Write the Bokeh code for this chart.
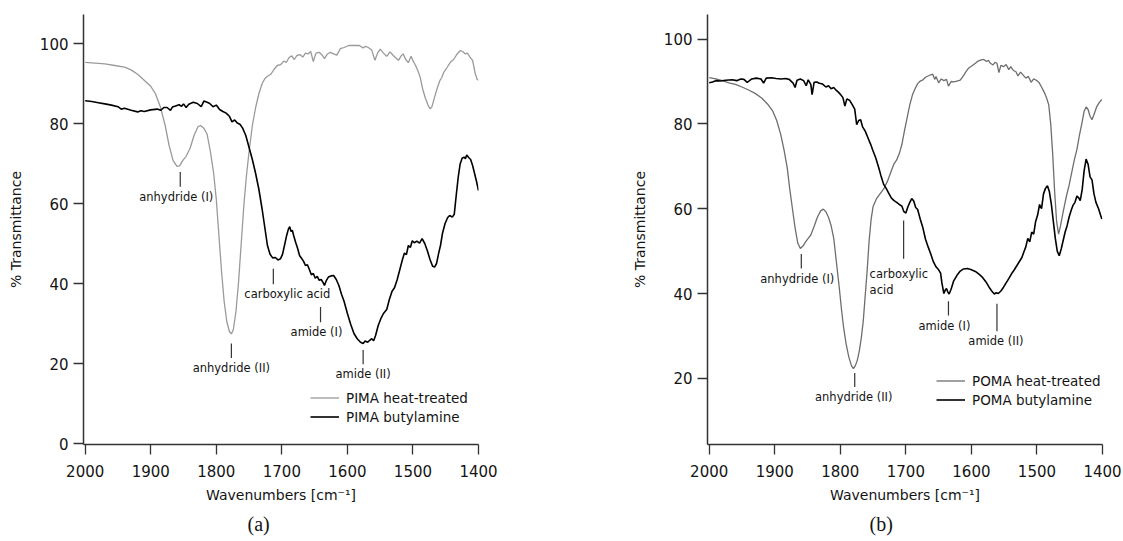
from bokeh.plotting import figure
from bokeh.layouts import row
from bokeh.models import Range1d, FixedTicker, Legend, LegendItem, Title
from bokeh.core.properties import value
from bokeh.embed import file_html
from bokeh.resources import INLINE

# ---------------- (a) PIMA spectra ----------------
pima_heat_wn = [2000, 1985, 1970, 1955, 1940, 1930, 1920, 1910, 1900, 1893, 1885, 1878, 1872, 1866,
                1860, 1856, 1851, 1846, 1840, 1834, 1828, 1824, 1819, 1814, 1809, 1804, 1800, 1796,
                1792, 1788, 1784, 1780, 1777, 1774, 1770, 1766, 1762, 1758, 1754, 1750, 1745, 1740,
                1735, 1730, 1726, 1722, 1717, 1712, 1707, 1702, 1697, 1693, 1689, 1685, 1681, 1677,
                1672, 1668, 1664, 1660, 1656, 1652, 1648, 1643, 1638, 1635, 1631, 1626, 1621, 1616,
                1611, 1605, 1598, 1590, 1582, 1576, 1572, 1568, 1563, 1558, 1554, 1550, 1545, 1540,
                1535, 1530, 1526, 1522, 1518, 1515, 1511, 1507, 1503, 1499, 1496, 1492, 1489, 1485,
                1481, 1477, 1474, 1471, 1467, 1463, 1459, 1456, 1453, 1448, 1443, 1438, 1433, 1428,
                1424, 1420, 1417, 1413, 1409, 1405, 1402, 1400]
pima_heat_t = [95.3, 95.1, 94.9, 94.5, 94.1, 93.4, 92.3, 90.8, 89.3, 87.5, 84.0, 79.5, 74.5, 70.8,
               69.3, 69.4, 70.8, 71.8, 73.8, 77.0, 79.2, 79.5, 78.8, 77.3, 73.0, 67.5, 61.0, 52.0,
               43.0, 35.5, 30.5, 28.0, 27.4, 28.5, 33.0, 40.5, 50.0, 59.5, 67.0, 73.0, 79.5, 84.0,
               87.5, 90.0, 91.2, 91.8, 92.3, 93.5, 94.5, 94.7, 95.6, 95.3, 96.5, 96.9, 96.0, 97.0,
               97.2, 96.6, 97.6, 97.4, 98.0, 95.5, 97.6, 97.8, 97.0, 96.2, 97.3, 97.8, 97.4, 97.1,
               98.7, 99.0, 99.5, 99.5, 99.5, 98.9, 99.3, 99.0, 98.4, 95.8, 97.6, 98.6, 97.6, 96.8,
               97.9, 97.0, 96.4, 95.8, 96.9, 97.4, 96.0, 95.2, 96.8, 95.4, 94.5, 93.0, 91.6, 88.5,
               86.3, 84.6, 83.7, 84.2, 86.6, 88.8, 90.7, 91.5, 92.8, 94.0, 95.3, 96.0, 97.3, 98.2,
               98.0, 97.4, 97.6, 96.6, 95.8, 92.5, 91.0, 90.8]

pima_amine_wn = [2000, 1990, 1980, 1970, 1960, 1950, 1945, 1940, 1930, 1920, 1915, 1910, 1900, 1890,
                 1885, 1880, 1875, 1870, 1867, 1862, 1857, 1853, 1850, 1846, 1842, 1835, 1829, 1823,
                 1819, 1814, 1810, 1805, 1800, 1795, 1790, 1785, 1780, 1776, 1772, 1768, 1764, 1760,
                 1755, 1750, 1745, 1740, 1735, 1730, 1726, 1722, 1718, 1714, 1710, 1706, 1702, 1699,
                 1696, 1693, 1690, 1688, 1686, 1684, 1682, 1679, 1676, 1673, 1670, 1667, 1664, 1661,
                 1658, 1655, 1652, 1649, 1646, 1643, 1640, 1637, 1635, 1632, 1629, 1625, 1621, 1617,
                 1613, 1609, 1605, 1600, 1595, 1590, 1585, 1580, 1576, 1573, 1569, 1566, 1563, 1560,
                 1557, 1553, 1549, 1545, 1540, 1536, 1532, 1528, 1524, 1520, 1516, 1513, 1510, 1507,
                 1504, 1501, 1498, 1494, 1490, 1486, 1482, 1478, 1474, 1470, 1467, 1464, 1461, 1458,
                 1455, 1451, 1447, 1444, 1440, 1437, 1434, 1431, 1428, 1425, 1422, 1420, 1418, 1415,
                 1412, 1409, 1406, 1403, 1400]
pima_amine_t = [85.7, 85.5, 85.2, 84.9, 84.6, 84.2, 83.6, 83.8, 83.3, 82.9, 83.2, 83.0, 83.4, 83.6,
                83.3, 84.0, 84.0, 83.3, 84.1, 84.4, 84.7, 84.3, 84.9, 84.0, 84.8, 85.3, 85.0, 84.2,
                85.6, 85.3, 85.0, 84.2, 84.6, 83.5, 83.0, 82.6, 81.8, 80.4, 80.9, 80.1, 79.8, 78.9,
                77.0, 74.0, 71.0, 67.5, 63.5, 58.5, 54.0, 49.5, 47.3, 46.4, 46.5, 45.9, 46.2, 47.3,
                49.5, 51.8, 53.6, 54.2, 53.0, 53.3, 52.0, 50.3, 48.8, 47.0, 46.3, 45.6, 44.5, 44.7,
                43.5, 42.2, 42.5, 41.3, 41.8, 40.8, 41.0, 40.2, 39.5, 40.8, 41.6, 41.9, 42.0, 41.0,
                39.5, 37.3, 35.5, 32.5, 29.8, 27.5, 26.2, 25.3, 25.0, 25.6, 25.3, 25.8, 26.2, 25.7,
                27.0, 29.5, 31.2, 32.5, 33.5, 36.0, 38.0, 39.0, 41.0, 43.5, 46.0, 47.6, 47.2, 49.5,
                49.0, 50.7, 50.2, 50.6, 50.1, 51.2, 50.0, 48.2, 46.0, 44.3, 44.1, 45.0, 47.4, 49.5,
                52.5, 55.0, 56.5, 57.0, 56.6, 57.3, 62.0, 66.5, 69.9, 71.3, 71.6, 71.2, 72.1, 71.5,
                71.0, 69.5, 67.5, 65.5, 63.2]

pima_ann_text = ["anhydride (I)", "anhydride (II)", "carboxylic acid", "amide (I)", "amide (II)"]
pima_ann_wn = [1855, 1777, 1713, 1641, 1576]
pima_ann_top = [67.9, 25.0, 43.7, 34.1, 23.4]
pima_ann_bot = [64.2, 21.4, 39.8, 30.3, 19.8]

# ---------------- (b) POMA spectra ----------------
poma_heat_wn = [2000, 1990, 1980, 1970, 1960, 1950, 1940, 1930, 1920, 1910, 1903, 1897, 1891, 1886,
                1881, 1877, 1873, 1869, 1865, 1861, 1857, 1853, 1849, 1845, 1840, 1835, 1830, 1826,
                1822, 1818, 1814, 1810, 1806, 1802, 1798, 1795, 1791, 1787, 1783, 1780, 1777, 1774,
                1771, 1768, 1765, 1762, 1759, 1756, 1753, 1750, 1745, 1740, 1734, 1728, 1722, 1718,
                1714, 1710, 1706, 1702, 1698, 1694, 1690, 1686, 1682, 1678, 1674, 1670, 1666, 1662,
                1659, 1656, 1654, 1650, 1646, 1642, 1638, 1635, 1631, 1627, 1622, 1617, 1612, 1608,
                1604, 1599, 1594, 1590, 1585, 1581, 1577, 1574, 1571, 1567, 1564, 1561, 1558, 1555,
                1551, 1547, 1543, 1540, 1536, 1532, 1529, 1525, 1521, 1517, 1513, 1509, 1505, 1501,
                1497, 1493, 1489, 1485, 1482, 1479, 1476, 1473, 1470, 1467, 1464, 1461, 1458, 1455,
                1451, 1447, 1443, 1439, 1435, 1431, 1428, 1425, 1422, 1419, 1416, 1413, 1409, 1405,
                1401]
poma_heat_t = [90.9, 90.6, 90.2, 89.7, 89.3, 88.7, 88.0, 87.2, 86.1, 84.5, 83.0, 80.8, 77.6, 74.0,
               69.7, 64.5, 60.0, 55.5, 52.0, 50.6, 51.2, 52.2, 53.0, 53.8, 55.8, 58.0, 59.5, 59.9,
               59.3, 58.0, 56.0, 53.0, 47.5, 42.0, 36.0, 32.0, 28.0, 25.0, 23.0, 22.3, 23.0, 24.3,
               26.5, 29.5, 33.5, 39.5, 45.5, 52.5, 57.5, 60.5, 62.3, 63.4, 64.6, 66.5, 69.0, 70.6,
               71.5, 73.0, 75.2, 78.5, 81.5, 84.5, 86.8, 88.3, 89.5, 90.1, 90.4, 91.0, 91.3, 91.6,
               91.7, 90.5, 91.2, 89.7, 90.6, 90.2, 90.5, 88.9, 90.0, 89.9, 90.1, 90.3, 91.4, 92.4,
               93.2, 93.7, 94.3, 94.8, 95.1, 95.2, 94.7, 95.0, 94.3, 93.9, 94.5, 94.3, 92.1, 93.8,
               93.5, 94.0, 92.8, 93.5, 92.6, 92.3, 91.3, 92.2, 91.5, 90.8, 91.2, 89.8, 90.6, 90.3,
               89.8, 88.7, 87.5, 86.0, 84.5, 80.0, 73.0, 64.0, 57.0, 54.0, 56.0, 58.5, 60.8, 63.0,
               65.5, 68.5, 71.5, 74.0, 77.5, 80.5, 83.0, 84.0, 83.4, 81.8, 81.0, 82.2, 84.0, 85.0,
               85.8]

poma_amine_wn = [2000, 1995, 1990, 1983, 1975, 1965, 1958, 1952, 1947, 1942, 1935, 1928, 1921, 1917,
                 1913, 1905, 1898, 1890, 1884, 1878, 1872, 1869, 1866, 1861, 1856, 1852, 1849, 1845,
                 1843, 1840, 1836, 1832, 1827, 1822, 1818, 1814, 1810, 1806, 1803, 1799, 1796, 1793,
                 1790, 1786, 1782, 1778, 1775, 1772, 1769, 1766, 1762, 1758, 1754, 1750, 1746, 1742,
                 1738, 1734, 1730, 1726, 1722, 1718, 1714, 1710, 1706, 1703, 1700, 1697, 1694, 1691,
                 1688, 1685, 1682, 1678, 1674, 1670, 1666, 1662, 1658, 1654, 1650, 1647, 1645, 1642,
                 1640, 1638, 1636, 1634, 1631, 1627, 1622, 1617, 1612, 1606, 1600, 1594, 1588, 1583,
                 1578, 1573, 1569, 1565, 1562, 1559, 1555, 1551, 1547, 1543, 1539, 1535, 1531, 1527,
                 1523, 1520, 1517, 1514, 1511, 1508, 1505, 1502, 1499, 1496, 1493, 1490, 1487, 1484,
                 1481, 1478, 1475, 1472, 1469, 1466, 1463, 1460, 1457, 1454, 1451, 1448, 1445, 1442,
                 1439, 1436, 1434, 1431, 1428, 1425, 1422, 1419, 1416, 1413, 1410, 1406, 1403, 1401]
poma_amine_t = [89.7, 89.9, 90.2, 90.1, 90.3, 90.4, 90.2, 90.6, 90.5, 89.8, 90.6, 90.8, 90.6, 89.6,
                90.8, 90.9, 90.7, 90.6, 90.7, 90.5, 89.6, 88.6, 90.3, 90.6, 90.2, 89.0, 90.4, 89.3,
                86.9, 89.8, 89.9, 89.6, 89.4, 88.7, 89.0, 88.3, 88.6, 87.9, 87.5, 86.8, 86.2, 84.2,
                85.9, 85.6, 84.6, 83.5, 79.8, 80.8, 81.0, 79.3, 78.3, 76.8, 75.3, 73.6, 72.0, 70.0,
                67.8, 65.8, 64.8, 63.6, 62.5, 61.9, 61.5, 61.0, 60.6, 59.3, 59.0, 60.4, 61.5, 62.4,
                61.8, 60.3, 59.8, 57.5, 55.5, 52.8, 51.0, 49.3, 47.5, 46.3, 45.6, 44.8, 42.5, 40.0,
                40.8, 41.2, 40.4, 39.9, 41.0, 43.0, 44.3, 45.3, 45.8, 45.9, 45.6, 45.2, 44.5, 43.8,
                42.8, 41.5, 40.6, 39.9, 40.2, 40.0, 40.6, 41.5, 42.5, 43.5, 44.6, 45.5, 46.5, 47.5,
                48.5, 49.8, 51.0, 53.0, 52.2, 54.5, 54.0, 57.0, 58.5, 61.0, 60.0, 63.5, 64.8, 65.4,
                64.0, 61.0, 57.0, 53.0, 50.0, 48.9, 50.5, 52.5, 54.5, 56.0, 58.0, 59.5, 60.8, 61.5,
                63.0, 62.5, 61.9, 64.5, 69.0, 71.7, 70.5, 67.5, 66.8, 63.5, 61.5, 60.0, 58.5, 57.6]

poma_ann_text = ["anhydride (I)", "anhydride (II)", "carboxylic\nacid", "amide (I)", "amide (II)"]
poma_ann_wn = [1859.5, 1778, 1703.4, 1635, 1561]
poma_ann_top = [49.3, 21.25, 57.2, 38.2, 37.6]
poma_ann_bot = [45.9, 17.95, 48.2, 34.8, 31.1]

x_ticks = [2000, 1900, 1800, 1700, 1600, 1500, 1400]
y_ticks = [0, 20, 40, 60, 80, 100]

SANS = "DejaVu Sans"
INK = "#141414"


def make_panel(width, border_left, border_right, y_range, caption, caption_offset,
               heat_wn, heat_t, amine_wn, amine_t, heat_color, names,
               ann_text, ann_wn, ann_top, ann_bot, ann_dx, ann_align, legend_xy):
    p = figure(width=width, height=541, output_backend="svg", toolbar_location=None,
               x_range=Range1d(2002.6, 1400), y_range=Range1d(*y_range),
               min_border_left=border_left, min_border_right=border_right,
               min_border_top=14, min_border_bottom=97)
    p.outline_line_color = None
    p.grid.visible = False
    p.background_fill_color = "white"
    p.border_fill_color = "white"

    for ax in (p.xaxis[0], p.yaxis[0]):
        ax.axis_line_color = "#333333"
        ax.axis_line_width = 1.5
        ax.major_tick_line_color = "#333333"
        ax.major_tick_line_width = 1.3
        ax.major_tick_out = 10
        ax.major_tick_in = 0
        ax.minor_tick_line_color = None
        ax.major_label_text_font = SANS
        ax.major_label_text_font_size = "15px"
        ax.major_label_text_color = INK
        ax.axis_label_text_font = SANS
        ax.axis_label_text_font_size = "14px"
        ax.axis_label_text_font_style = "normal"
        ax.axis_label_text_color = INK

    p.xaxis.ticker = FixedTicker(ticks=x_ticks)
    p.yaxis.ticker = FixedTicker(ticks=y_ticks)
    p.xaxis.major_label_standoff = 10
    p.yaxis.major_label_standoff = 5
    p.xaxis.axis_label = "Wavenumbers [cm\u207b\u00b9]"
    p.yaxis.axis_label = "% Transmittance"
    p.xaxis.axis_label_standoff = 7
    p.yaxis.axis_label_standoff = 13

    r_heat = p.line(heat_wn, heat_t, line_color=heat_color, line_width=1.3)
    r_amine = p.line(amine_wn, amine_t, line_color="black", line_width=1.6)

    # peak markers and their assignments
    p.segment(x0=ann_wn, y0=ann_top, x1=ann_wn, y1=ann_bot, line_color="#333333", line_width=1.2)
    for txt, wn, bot, dx, al in zip(ann_text, ann_wn, ann_bot, ann_dx, ann_align):
        if al == "center":
            p.text(x=[wn], y=[bot], text=[txt], text_align="center", text_baseline="middle",
                   x_offset=dx, y_offset=10, text_font=value(SANS), text_font_size="11.5px",
                   text_color=INK)
        else:
            lines = txt.split("\n")
            for k, ln in enumerate(lines):
                p.text(x=[wn], y=[bot], text=[ln], text_align="left", text_baseline="middle",
                       x_offset=dx, y_offset=15 + 16.5 * k, text_font=value(SANS),
                       text_font_size="11.5px", text_color=INK)

    legend = Legend(items=[LegendItem(label=names[0], renderers=[r_heat]),
                           LegendItem(label=names[1], renderers=[r_amine])],
                    location=legend_xy, orientation="vertical")
    legend.border_line_color = None
    legend.background_fill_alpha = 0
    legend.padding = 0
    legend.margin = 0
    legend.spacing = 0
    legend.glyph_width = 29
    legend.glyph_height = 19
    legend.label_height = 19
    legend.label_standoff = 7
    legend.label_text_font = SANS
    legend.label_text_font_size = "13.5px"
    legend.label_text_color = INK
    p.add_layout(legend)

    cap = Title(text=caption, align="left", offset=caption_offset, standoff=10,
                text_font="Liberation Serif", text_font_size="20px",
                text_font_style="normal", text_color=INK)
    p.add_layout(cap, "below")
    return p


pa = make_panel(561, 83, 83, (-0.25, 107.25), "(a)", 164,
                pima_heat_wn, pima_heat_t, pima_amine_wn, pima_amine_t, "#9a9a9a",
                ["PIMA heat-treated", "PIMA butylamine"],
                pima_ann_text, pima_ann_wn, pima_ann_top, pima_ann_bot,
                [-4, 0, 14, -4, 0], ["center"] * 5, (227, 18))

pb = make_panel(562, 146, 21, (4.4, 105.8), "(b)", 162,
                poma_heat_wn, poma_heat_t, poma_amine_wn, poma_amine_t, "#6e6e6e",
                ["POMA heat-treated", "POMA butylamine"],
                poma_ann_text, poma_ann_wn, poma_ann_top, poma_ann_bot,
                [-4, -1, -34, -4, -1], ["center", "center", "left", "center", "center"], (229, 35))
pb.yaxis.ticker = FixedTicker(ticks=[20, 40, 60, 80, 100])

layout = row(pa, pb)
open("out.html", "w").write(file_html(layout, INLINE))
